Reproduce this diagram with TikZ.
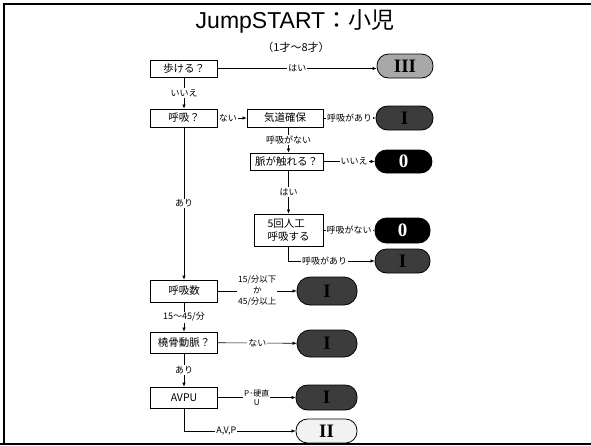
\documentclass[tikz,border=0pt]{standalone}
\usepackage{fontspec}
\setmainfont{Noto Sans CJK JP}
\newfontfamily\titlefont{Liberation Sans}
\newfontfamily\romfont{Liberation Serif}
\usetikzlibrary{arrows.meta}
\definecolor{ovgray}{HTML}{A8A8A8}
\definecolor{ovdark}{HTML}{3C3C3C}
\definecolor{ovlight}{HTML}{F2F2F2}
\begin{document}
\begin{tikzpicture}[x=1pt,y=-1pt,
  qbox/.style={draw, line width=0.8pt, minimum width=67pt, minimum height=18pt, inner sep=1pt, fill=white, font=\fontsize{10.5}{12.5}\selectfont},
  oval/.style={draw, line width=0.8pt, rounded corners=11.5pt, inner sep=0pt, font=\romfont\bfseries\fontsize{19}{19}\selectfont},
  ovIII/.style={oval, fill=ovgray, text=black},
  ovI/.style={oval, fill=ovdark, text=black},
  ov0/.style={oval, fill=black, text=white},
  ovII/.style={oval, fill=ovlight, text=black},
  lab/.style={fill=white, inner sep=1pt, font=\fontsize{9}{10}\selectfont},
  arr/.style={-{Latex[length=4pt,width=3.5pt]}, line width=0.6pt}
]
\useasboundingbox (0,0) rectangle (591,445);
% title
\node (title) at (295,21) {\fontsize{23}{26}\selectfont\titlefont JumpSTART\normalfont：小児};
\node (sub) at (296,47) {\fontsize{11}{12}\selectfont（1才～8才）};
% question boxes
\node[qbox, minimum width=67pt, minimum height=17pt] (walk) at (184,68.5) {歩ける？};
\node[qbox, minimum width=67pt, minimum height=18pt] (breath) at (184,118) {呼吸？};
\node[qbox, minimum width=76pt, minimum height=18pt] (airway) at (285,118) {気道確保};
\node[qbox, minimum width=73pt, minimum height=17pt] (pulse) at (286.5,161.5) {脈が触れる？};
\node[qbox, minimum width=69pt, minimum height=32pt, align=left] (rescue) at (288.5,230) {5回人工\\呼吸する};
\node[qbox, minimum width=67pt, minimum height=22pt] (rate) at (184,291) {呼吸数};
\node[qbox, minimum width=67pt, minimum height=21pt] (radial) at (184,342.5) {橈骨動脈？};
\node[qbox, minimum width=67pt, minimum height=21pt] (avpu) at (184,397.5) {AVPU};
% outcome ovals
\node[ovIII, minimum width=56pt, minimum height=24pt] (oIII) at (405,66) {III};
\node[ovI, minimum width=57pt, minimum height=24pt] (oIa) at (404.5,118) {I};
\node[ov0, minimum width=57pt, minimum height=23pt] (o0a) at (403.5,161.5) {0};
\node[ov0, minimum width=55pt, minimum height=25pt] (o0b) at (402.5,230.5) {0};
\node[ovI, minimum width=55pt, minimum height=24pt] (oIb) at (402.5,261) {I};
\node[ovI, minimum width=60pt, minimum height=28pt, rounded corners=13pt] (oIc) at (327,291) {I};
\node[ovI, minimum width=60pt, minimum height=27pt, rounded corners=13pt] (oId) at (327,343.5) {I};
\node[ovI, minimum width=61pt, minimum height=25pt] (oIe) at (326.5,397.5) {I};
\node[ovII, minimum width=61pt, minimum height=24pt] (oII) at (326.5,431) {II};
% connectors
\draw[arr] (walk.east) -- (walk.east -| oIII.west) node[lab, midway] {はい};
\draw[arr] (walk) -- (breath) node[lab, midway] {いいえ};
\draw[arr] (breath) -- (airway) node[lab, pos=0.35] {ない};
\draw[arr] (airway) -- (oIa) node[lab, midway] {呼吸があり};
\draw[arr] (airway.south -| rescue.south) -- (pulse.north -| rescue.south) node[lab, midway] {呼吸がない};
\draw[arr] (pulse) -- (o0a) node[lab, pos=0.6] {いいえ};
\draw[arr] (pulse.south -| rescue.south) -- (rescue.north) node[lab, midway] {はい};
\draw[arr] (rescue.east |- o0b.west) -- (o0b.west) node[lab, midway] {呼吸がない};
\draw[arr] (rescue.south) |- (oIb.west) node[lab, pos=0.71] {呼吸があり};
\draw[arr] (breath) -- (rate) node[lab, midway] {あり};
\draw[arr] (rate) -- (oIc) node[lab, midway, align=center, font=\fontsize{8.5}{11}\selectfont] {15/分以下\\か\\45/分以上};
\draw[arr] (rate) -- (radial) node[lab, midway] {15～45/分};
\draw[arr] (radial) -- (oId) node[lab, midway] {ない};
\draw[arr] (radial) -- (avpu) node[lab, midway] {あり};
\draw[arr] (avpu) -- (oIe) node[lab, midway, align=center, font=\fontsize{8}{9.5}\selectfont] {P･硬直\\U};
\draw[arr] (avpu.south) |- (oII.west) node[lab, pos=0.69] {A,V,P};
% frame
\draw[line width=2.2pt] (4,445) -- (4,4) -- (591,4);
\draw[line width=2pt] (0,443.5) -- (591,443.5);
\end{tikzpicture}
\end{document}
